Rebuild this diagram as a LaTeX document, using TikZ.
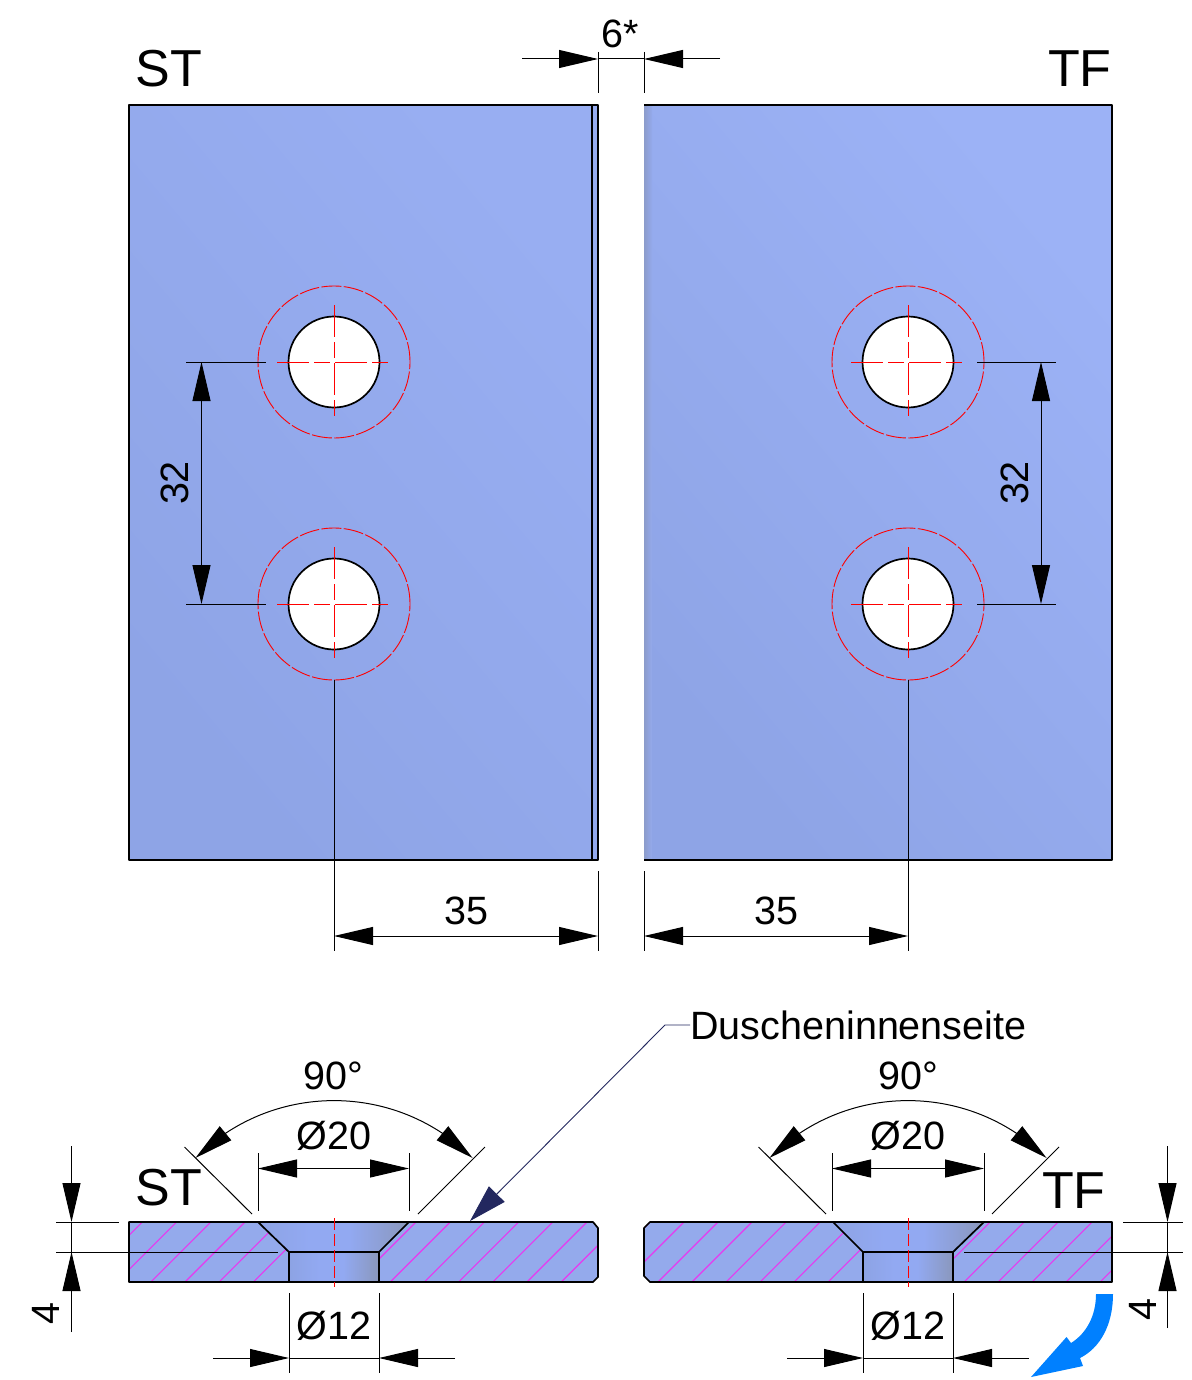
\documentclass[tikz,border=0pt]{standalone}
\usepackage{fontspec}
\setmainfont{Liberation Sans}
\usetikzlibrary{arrows.meta,bending}
\definecolor{plateA}{HTML}{8EA4E6}
\definecolor{plateB}{HTML}{98AEF2}
\definecolor{plateC}{HTML}{9CB2F6}
\definecolor{sectionfill}{HTML}{94AAEC}
\definecolor{boreA}{HTML}{8DA3E4}
\definecolor{boreB}{HTML}{92A9F2}
\definecolor{boreC}{HTML}{8A97BC}
\definecolor{edgeband}{HTML}{8C9CCB}
\definecolor{hatchcol}{HTML}{E838F0}
\definecolor{leadercol}{HTML}{23285F}
\definecolor{turncol}{HTML}{0080FF}
\pgfdeclarehorizontalshading{boreshade}{100bp}{color(0bp)=(boreA); color(25bp)=(boreA); color(42bp)=(boreB); color(55bp)=(boreB); color(75bp)=(boreC); color(100bp)=(boreC)}
\tikzstyle{edge} = [draw=black, line width=0.85pt, line join=round]
\tikzstyle{dimline} = [draw=black, line width=0.5pt]
\tikzstyle{dimarrow} = [draw=black, line width=0.5pt, -{Triangle[length=19.5pt,width=9pt]}]
\tikzstyle{dimboth} = [draw=black, line width=0.5pt, {Triangle[length=19.5pt,width=9pt]}-{Triangle[length=19.5pt,width=9pt]}]
\tikzstyle{axisline} = [draw=red, line width=0.45pt, dash pattern=on 16pt off 2.5pt on 8pt off 2.5pt]
\tikzstyle{outerring} = [draw=red, line width=0.45pt, dash pattern=on 10pt off 1.2pt]
\tikzstyle{hatchline} = [draw=hatchcol, line width=0.55pt]
\tikzstyle{dimtext} = [font=\fontsize{19.75pt}{22pt}\selectfont, inner sep=0pt]
\tikzstyle{sidetext} = [font=\fontsize{26pt}{28pt}\selectfont, inner sep=0pt]

\begin{document}
\begin{tikzpicture}[x=0.5pt,y=-0.5pt]
    \useasboundingbox (0,0) rectangle (1191,1380);
	%% Plates
    \shade [bottom color=plateA, top color=plateB, shading angle=-50] (129,105) rectangle (598,860);
    \shade [bottom color=plateA, top color=plateC, shading angle=-50] (644,105) rectangle (1112,860);
    \shade [left color=edgeband, right color=plateA!60!plateC] (644,105) rectangle (652,860);
    \path [edge] (129,105) rectangle (598,860);
    \path [edge] (592,105) -- (592,860);
    \path [edge] (644,105) -- (1112,105) -- (1112,860) -- (644,860);
	%% Holes
    \foreach \cx in {334,908} {
    	\foreach \cy in {362,604} {
    		\path [edge, fill=white] (\cx,\cy) circle [radius=22.75pt];
    		\path [outerring] (\cx,\cy) circle [radius=38pt];
    		\path [axisline] (\cx-57,\cy) -- (\cx+57,\cy);
    		\path [axisline] (\cx,\cy-57) -- (\cx,\cy+57);
    	}
    }
    \node [sidetext, anchor=base west] (topST) at (135,87) {ST};
    \node [sidetext, anchor=base east] (topTF) at (1112,87) {TF};
	%% Gap dimension
    \path [dimline] (598,52) -- (598,93);
    \path [dimline] (644,52) -- (644,93);
    \path [dimline] (598,59) -- (644,59);
    \path [dimarrow] (522,59) -- (598,59);
    \path [dimarrow] (720,59) -- (644,59);
    \node [dimtext] (gapText) at (620,34) {6*};
	%% Hole spacing
    \path [dimline] (186,362) -- (266,362);
    \path [dimline] (186,604) -- (266,604);
    \path [dimboth] (201.5,362) -- (201.5,604);
    \node [dimtext, rotate=90] (pitchL) at (175,483) {32};
    \path [dimline] (977,362) -- (1056,362);
    \path [dimline] (977,604) -- (1056,604);
    \path [dimboth] (1041,362) -- (1041,604);
    \node [dimtext, rotate=90] (pitchR) at (1015,483) {32};
	%% Edge distance
    \path [dimline] (334,680) -- (334,951);
    \path [dimline] (598,871) -- (598,951);
    \path [dimboth] (334,936) -- (598,936);
    \node [dimtext] (edgeL) at (466,911) {35};
    \path [dimline] (644,871) -- (644,951);
    \path [dimline] (908,680) -- (908,951);
    \path [dimboth] (644,936) -- (908,936);
    \node [dimtext] (edgeR) at (776,911) {35};
	%% Section ST
    \fill [sectionfill] (129,1222) -- (593,1222) -- (598,1228) -- (598,1277) -- (593,1282) -- (129,1282) -- cycle;
    \shade [shading=boreshade] (258,1222) -- (409,1222) -- (379,1252) -- (289,1252) -- cycle;
    \shade [shading=boreshade] (289,1252) rectangle (379,1282);
    \begin{scope}
    	\clip (129,1222) -- (258,1222) -- (289,1252) -- (289,1282) -- (129,1282) -- cycle
    		(409,1222) -- (593,1222) -- (598,1228) -- (598,1277) -- (593,1282) -- (379,1282) -- (379,1252) -- cycle;
    	\foreach \k in {-3,...,13}
    		\path [hatchline] ({150.8+34.2*\k},1282) -- ++(60,-60);
    \end{scope}
    \path [edge] (129,1222) -- (593,1222) -- (598,1228) -- (598,1277) -- (593,1282) -- (129,1282) -- cycle;
    \path [edge] (258,1222) -- (289,1252) -- (379,1252) -- (409,1222);
    \path [edge] (289,1252) -- (289,1282) (379,1252) -- (379,1282);
    \path [draw=red, line width=0.5pt, dash pattern=on 6pt off 2pt] (334,1218) -- (334,1287);
	%% Section TF
    \fill [sectionfill] (650,1222) -- (1112,1222) -- (1112,1282) -- (650,1282) -- (644,1276) -- (644,1228) -- cycle;
    \shade [shading=boreshade] (833,1222) -- (984,1222) -- (953,1252) -- (863,1252) -- cycle;
    \shade [shading=boreshade] (863,1252) rectangle (953,1282);
    \begin{scope}
    	\clip (650,1222) -- (833,1222) -- (863,1252) -- (863,1282) -- (650,1282) -- (644,1276) -- (644,1228) -- cycle
    		(984,1222) -- (1112,1222) -- (1112,1282) -- (953,1282) -- (953,1252) -- cycle;
    	\foreach \k in {-3,...,13}
    		\path [hatchline] ({658+34*\k},1282) -- ++(60,-60);
    \end{scope}
    \path [edge] (650,1222) -- (1112,1222) -- (1112,1282) -- (650,1282) -- (644,1276) -- (644,1228) -- cycle;
    \path [edge] (833,1222) -- (863,1252) -- (953,1252) -- (984,1222);
    \path [edge] (863,1252) -- (863,1282) (953,1252) -- (953,1282);
    \path [draw=red, line width=0.5pt, dash pattern=on 6pt off 2pt] (908,1218) -- (908,1287);
    \node [sidetext, anchor=base west] (lowST) at (135,1205) {ST};
    \node [sidetext, anchor=base east] (lowTF) at (1106,1208) {TF};
	%% Countersink angle and diameters, ST
    \coordinate (angleL) at (195.4,1158);
    \path [dimline] (252,1214) -- (184.5,1147);
    \path [dimline] (418,1214) -- (485,1147);
    \draw [dimboth] (angleL) arc [start angle=135, end angle=45, radius=98pt];
    \node [dimtext] (angTextL) at (333,1076) {90°};
    \path [dimline] (258,1153) -- (258,1211);
    \path [dimline] (409,1153) -- (409,1211);
    \path [dimboth] (258,1168.5) -- (409,1168.5);
    \node [dimtext] (csinkL) at (334,1136) {Ø20};
    \path [dimline] (289,1293) -- (289,1373);
    \path [dimline] (379,1293) -- (379,1373);
    \path [dimline] (289,1358) -- (379,1358);
    \path [dimarrow] (213,1358) -- (289,1358);
    \path [dimarrow] (455,1358) -- (379,1358);
    \node [dimtext] (boreL) at (334,1326) {Ø12};
	%% Countersink angle and diameters, TF
    \coordinate (angleR) at (769.4,1158);
    \path [dimline] (826,1214) -- (758.5,1147);
    \path [dimline] (992,1214) -- (1059,1147);
    \draw [dimboth] (angleR) arc [start angle=135, end angle=45, radius=98pt];
    \node [dimtext] (angTextR) at (908,1076) {90°};
    \path [dimline] (832,1153) -- (832,1211);
    \path [dimline] (984,1153) -- (984,1211);
    \path [dimboth] (832,1168.5) -- (984,1168.5);
    \node [dimtext] (csinkR) at (908,1136) {Ø20};
    \path [dimline] (863,1293) -- (863,1373);
    \path [dimline] (953,1293) -- (953,1373);
    \path [dimline] (863,1358) -- (953,1358);
    \path [dimarrow] (787,1358) -- (863,1358);
    \path [dimarrow] (1029,1358) -- (953,1358);
    \node [dimtext] (boreR) at (908,1326) {Ø12};
	%% Depth
    \path [dimline] (56,1222) -- (119,1222);
    \path [dimline] (56,1252) -- (278,1252);
    \path [dimline] (71.5,1222) -- (71.5,1252);
    \path [dimarrow] (71.5,1146) -- (71.5,1222);
    \path [dimarrow] (71.5,1332) -- (71.5,1252);
    \node [dimtext, rotate=90] (depthL) at (46,1313) {4};
    \path [dimline] (1123,1222) -- (1183,1222);
    \path [dimline] (964,1252) -- (1183,1252);
    \path [dimline] (1167.5,1222) -- (1167.5,1252);
    \path [dimarrow] (1167.5,1146) -- (1167.5,1222);
    \path [dimarrow] (1167.5,1328) -- (1167.5,1252);
    \node [dimtext, rotate=90] (depthR) at (1143,1309) {4};
	%% Inner side label
    \node [dimtext, anchor=west] (inner) at (690,1025) {Duscheninnenseite};
    \coordinate (innerTip) at (470,1221);
    \path [draw=leadercol, line width=0.45pt, -{Triangle[length=19pt,width=11pt]}] (inner.west) -- (665,1025) -- (innerTip);
	%% Turn arrow
    \fill [turncol] (1096,1294) .. controls (1096,1315) and (1087,1333) .. (1071,1343) -- (1066.5,1337) -- (1031,1377) -- (1083,1366) -- (1080,1358) .. controls (1100,1348) and (1113,1325) .. (1113,1294) -- cycle;
\end{tikzpicture}
\end{document}
